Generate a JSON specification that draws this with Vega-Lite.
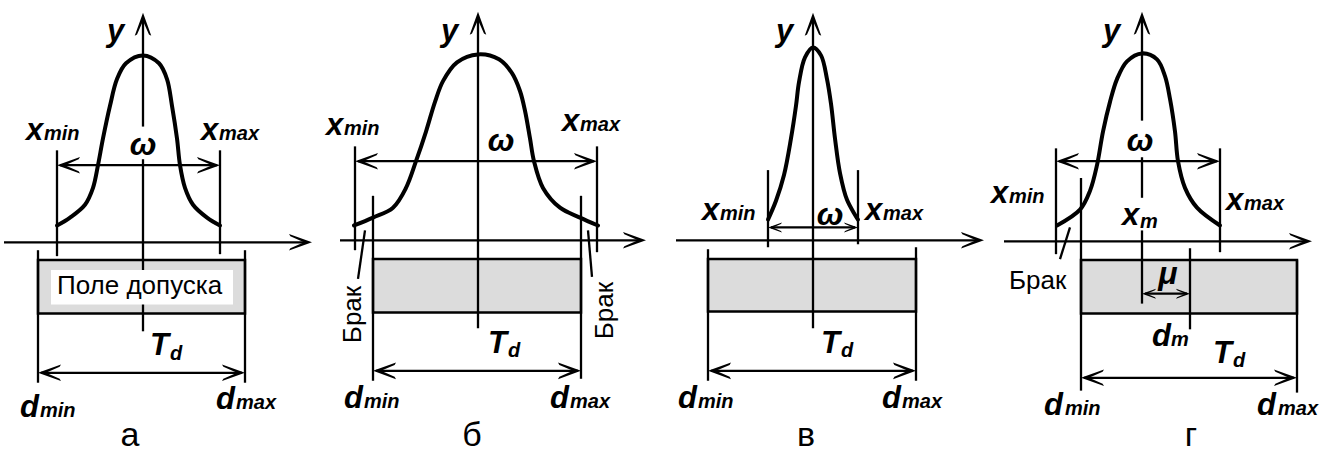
{
  "$schema": "https://vega.github.io/schema/vega-lite/v6.json",
  "width": 1333,
  "height": 453,
  "autosize": {"type": "fit", "contains": "padding"},
  "padding": 0,
  "background": "white",
  "config": {"view": {"stroke": null}, "axis": {"disable": true}},
  "datasets": {
    "boxes": [
      {"role": "tol", "panel": "а", "x": 38, "y": 263, "x2": 245, "y2": 317},
      {"role": "tol", "panel": "б", "x": 373, "y": 262, "x2": 581, "y2": 316},
      {"role": "tol", "panel": "в", "x": 708, "y": 262, "x2": 916, "y2": 315},
      {"role": "tol", "panel": "г", "x": 1081, "y": 263, "x2": 1297, "y2": 317},
      {"role": "blank", "panel": "а", "x": 51, "y": 273, "x2": 233, "y2": 308}
    ],
    "rules": [
      {"panel": "а", "x": 143, "y": 20, "x2": 143, "y2": 128},
      {"panel": "а", "x": 143, "y": 161, "x2": 143, "y2": 335},
      {"panel": "а", "x": 4, "y": 245, "x2": 305, "y2": 245},
      {"panel": "а", "x": 57, "y": 152, "x2": 57, "y2": 259},
      {"panel": "а", "x": 220, "y": 152, "x2": 220, "y2": 257},
      {"panel": "а", "x": 60, "y": 167, "x2": 217, "y2": 167},
      {"panel": "а", "x": 38, "y": 253, "x2": 38, "y2": 387},
      {"panel": "а", "x": 245, "y": 253, "x2": 245, "y2": 387},
      {"panel": "а", "x": 41, "y": 377, "x2": 242, "y2": 377},
      {"panel": "б", "x": 478, "y": 20, "x2": 478, "y2": 332},
      {"panel": "б", "x": 340, "y": 243, "x2": 640, "y2": 243},
      {"panel": "б", "x": 355, "y": 148, "x2": 355, "y2": 253},
      {"panel": "б", "x": 597, "y": 148, "x2": 597, "y2": 255},
      {"panel": "б", "x": 358, "y": 163, "x2": 594, "y2": 163},
      {"panel": "б", "x": 373, "y": 198, "x2": 373, "y2": 385},
      {"panel": "б", "x": 581, "y": 198, "x2": 581, "y2": 383},
      {"panel": "б", "x": 376, "y": 375, "x2": 578, "y2": 375},
      {"panel": "б", "x": 365, "y": 233, "x2": 358, "y2": 282},
      {"panel": "б", "x": 588, "y": 233, "x2": 592, "y2": 280},
      {"panel": "в", "x": 813, "y": 20, "x2": 813, "y2": 332},
      {"panel": "в", "x": 676, "y": 243, "x2": 978, "y2": 243},
      {"panel": "в", "x": 768, "y": 172, "x2": 768, "y2": 250},
      {"panel": "в", "x": 858, "y": 172, "x2": 858, "y2": 247},
      {"panel": "в", "x": 771, "y": 230, "x2": 855, "y2": 230},
      {"panel": "в", "x": 708, "y": 252, "x2": 708, "y2": 385},
      {"panel": "в", "x": 916, "y": 250, "x2": 916, "y2": 385},
      {"panel": "в", "x": 711, "y": 375, "x2": 913, "y2": 375},
      {"panel": "г", "x": 1142, "y": 20, "x2": 1142, "y2": 122},
      {"panel": "г", "x": 1142, "y": 159, "x2": 1142, "y2": 200},
      {"panel": "г", "x": 1142, "y": 233, "x2": 1142, "y2": 307},
      {"panel": "г", "x": 1004, "y": 244, "x2": 1306, "y2": 244},
      {"panel": "г", "x": 1056, "y": 150, "x2": 1056, "y2": 257},
      {"panel": "г", "x": 1220, "y": 150, "x2": 1220, "y2": 255},
      {"panel": "г", "x": 1059, "y": 163, "x2": 1217, "y2": 163},
      {"panel": "г", "x": 1081, "y": 180, "x2": 1081, "y2": 395},
      {"panel": "г", "x": 1297, "y": 263, "x2": 1297, "y2": 397},
      {"panel": "г", "x": 1190, "y": 251, "x2": 1190, "y2": 333},
      {"panel": "г", "x": 1145, "y": 297, "x2": 1187, "y2": 297},
      {"panel": "г", "x": 1084, "y": 382, "x2": 1294, "y2": 382},
      {"panel": "г", "x": 1070, "y": 230, "x2": 1060, "y2": 262}
    ],
    "curves": [
      {"panel": "а", "x": 57, "y": 228}, {"panel": "а", "x": 70, "y": 220}, {"panel": "а", "x": 85, "y": 207},
      {"panel": "а", "x": 93, "y": 190}, {"panel": "а", "x": 98, "y": 167}, {"panel": "а", "x": 103, "y": 140},
      {"panel": "а", "x": 110, "y": 107}, {"panel": "а", "x": 117, "y": 80}, {"panel": "а", "x": 126, "y": 64},
      {"panel": "а", "x": 143, "y": 56}, {"panel": "а", "x": 159, "y": 64}, {"panel": "а", "x": 167, "y": 80},
      {"panel": "а", "x": 172, "y": 107}, {"panel": "а", "x": 177, "y": 140}, {"panel": "а", "x": 180, "y": 167},
      {"panel": "а", "x": 185, "y": 190}, {"panel": "а", "x": 193, "y": 207}, {"panel": "а", "x": 207, "y": 220},
      {"panel": "а", "x": 220, "y": 228},
      {"panel": "б", "x": 354, "y": 228}, {"panel": "б", "x": 373, "y": 220}, {"panel": "б", "x": 393, "y": 210},
      {"panel": "б", "x": 406, "y": 190}, {"panel": "б", "x": 416, "y": 163}, {"panel": "б", "x": 426, "y": 133},
      {"panel": "б", "x": 435, "y": 103}, {"panel": "б", "x": 443, "y": 82}, {"panel": "б", "x": 457, "y": 63},
      {"panel": "б", "x": 478, "y": 55}, {"panel": "б", "x": 499, "y": 60}, {"panel": "б", "x": 512, "y": 74},
      {"panel": "б", "x": 520, "y": 92}, {"panel": "б", "x": 525, "y": 112}, {"panel": "б", "x": 530, "y": 140},
      {"panel": "б", "x": 534, "y": 163}, {"panel": "б", "x": 543, "y": 190}, {"panel": "б", "x": 560, "y": 210},
      {"panel": "б", "x": 580, "y": 220}, {"panel": "б", "x": 598, "y": 228},
      {"panel": "в", "x": 768, "y": 222}, {"panel": "в", "x": 776, "y": 203}, {"panel": "в", "x": 784, "y": 177},
      {"panel": "в", "x": 791, "y": 140}, {"panel": "в", "x": 796, "y": 107}, {"panel": "в", "x": 799, "y": 83},
      {"panel": "в", "x": 805, "y": 58}, {"panel": "в", "x": 813, "y": 48}, {"panel": "в", "x": 821, "y": 56},
      {"panel": "в", "x": 827, "y": 80}, {"panel": "в", "x": 831, "y": 105}, {"panel": "в", "x": 835, "y": 140},
      {"panel": "в", "x": 840, "y": 175}, {"panel": "в", "x": 847, "y": 202}, {"panel": "в", "x": 858, "y": 222},
      {"panel": "г", "x": 1057, "y": 228}, {"panel": "г", "x": 1080, "y": 212}, {"panel": "г", "x": 1090, "y": 193},
      {"panel": "г", "x": 1097, "y": 167}, {"panel": "г", "x": 1103, "y": 133}, {"panel": "г", "x": 1110, "y": 103},
      {"panel": "г", "x": 1117, "y": 80}, {"panel": "г", "x": 1127, "y": 62}, {"panel": "г", "x": 1142, "y": 54},
      {"panel": "г", "x": 1157, "y": 60}, {"panel": "г", "x": 1165, "y": 77}, {"panel": "г", "x": 1170, "y": 100},
      {"panel": "г", "x": 1175, "y": 133}, {"panel": "г", "x": 1178, "y": 163}, {"panel": "г", "x": 1185, "y": 190},
      {"panel": "г", "x": 1197, "y": 210}, {"panel": "г", "x": 1220, "y": 228}
    ],
    "arrows": [
      {"dir": "R", "x": 312, "y": 245}, {"dir": "R", "x": 220, "y": 167}, {"dir": "R", "x": 245, "y": 377},
      {"dir": "R", "x": 646, "y": 243}, {"dir": "R", "x": 597, "y": 163}, {"dir": "R", "x": 581, "y": 375},
      {"dir": "R", "x": 984, "y": 243}, {"dir": "R", "x": 916, "y": 375},
      {"dir": "R", "x": 1312, "y": 244}, {"dir": "R", "x": 1220, "y": 163}, {"dir": "R", "x": 1297, "y": 382},
      {"dir": "L", "x": 57, "y": 167}, {"dir": "L", "x": 38, "y": 377},
      {"dir": "L", "x": 355, "y": 163}, {"dir": "L", "x": 373, "y": 375},
      {"dir": "L", "x": 708, "y": 375},
      {"dir": "L", "x": 1056, "y": 163}, {"dir": "L", "x": 1081, "y": 382},
      {"dir": "U", "x": 143, "y": 13}, {"dir": "U", "x": 478, "y": 12}, {"dir": "U", "x": 813, "y": 13}, {"dir": "U", "x": 1142, "y": 12},
      {"dir": "r", "x": 858, "y": 230}, {"dir": "r", "x": 1190, "y": 297},
      {"dir": "l", "x": 768, "y": 230}, {"dir": "l", "x": 1142, "y": 297}
    ],
    "texts": [
      {"role": "sym", "t": "y", "x": 107, "y": 41},
      {"role": "sym", "t": "x", "x": 26, "y": 142}, {"role": "sub", "t": "min", "x": 44, "y": 142},
      {"role": "sym", "t": "x", "x": 201, "y": 142}, {"role": "sub", "t": "max", "x": 219, "y": 142},
      {"role": "greek", "t": "ω", "x": 143, "y": 157},
      {"role": "sym", "t": "T", "x": 150, "y": 359}, {"role": "sub", "t": "d", "x": 170, "y": 364},
      {"role": "sym", "t": "d", "x": 20, "y": 422}, {"role": "sub", "t": "min", "x": 40, "y": 422},
      {"role": "sym", "t": "d", "x": 216, "y": 414}, {"role": "sub", "t": "max", "x": 236, "y": 414},
      {"role": "caption", "t": "а", "x": 130, "y": 451},
      {"role": "note", "t": "Поле допуска", "x": 57, "y": 297},

      {"role": "sym", "t": "y", "x": 441, "y": 41},
      {"role": "sym", "t": "x", "x": 326, "y": 137}, {"role": "sub", "t": "min", "x": 344, "y": 137},
      {"role": "sym", "t": "x", "x": 562, "y": 132}, {"role": "sub", "t": "max", "x": 580, "y": 132},
      {"role": "greek", "t": "ω", "x": 501, "y": 153},
      {"role": "sym", "t": "T", "x": 488, "y": 357}, {"role": "sub", "t": "d", "x": 508, "y": 361},
      {"role": "sym", "t": "d", "x": 344, "y": 413}, {"role": "sub", "t": "min", "x": 364, "y": 413},
      {"role": "sym", "t": "d", "x": 550, "y": 413}, {"role": "sub", "t": "max", "x": 570, "y": 413},
      {"role": "caption", "t": "б", "x": 472, "y": 451},
      {"role": "noterot", "t": "Брак", "x": 353, "y": 318},
      {"role": "noterot", "t": "Брак", "x": 605, "y": 314},

      {"role": "sym", "t": "y", "x": 776, "y": 41},
      {"role": "sym", "t": "x", "x": 702, "y": 222}, {"role": "sub", "t": "min", "x": 720, "y": 222},
      {"role": "sym", "t": "x", "x": 865, "y": 222}, {"role": "sub", "t": "max", "x": 883, "y": 222},
      {"role": "greek", "t": "ω", "x": 830, "y": 228},
      {"role": "sym", "t": "T", "x": 821, "y": 357}, {"role": "sub", "t": "d", "x": 841, "y": 361},
      {"role": "sym", "t": "d", "x": 678, "y": 413}, {"role": "sub", "t": "min", "x": 698, "y": 413},
      {"role": "sym", "t": "d", "x": 882, "y": 413}, {"role": "sub", "t": "max", "x": 902, "y": 413},
      {"role": "caption", "t": "в", "x": 806, "y": 451},

      {"role": "sym", "t": "y", "x": 1103, "y": 41},
      {"role": "sym", "t": "x", "x": 991, "y": 205}, {"role": "sub", "t": "min", "x": 1009, "y": 205},
      {"role": "sym", "t": "x", "x": 1226, "y": 212}, {"role": "sub", "t": "max", "x": 1244, "y": 212},
      {"role": "greek", "t": "ω", "x": 1140, "y": 153},
      {"role": "sym", "t": "x", "x": 1122, "y": 228}, {"role": "sub", "t": "m", "x": 1140, "y": 231},
      {"role": "greek", "t": "μ", "x": 1168, "y": 287},
      {"role": "sym", "t": "d", "x": 1152, "y": 350}, {"role": "sub", "t": "m", "x": 1171, "y": 350},
      {"role": "sym", "t": "T", "x": 1213, "y": 367}, {"role": "sub", "t": "d", "x": 1233, "y": 371},
      {"role": "sym", "t": "d", "x": 1044, "y": 420}, {"role": "sub", "t": "min", "x": 1065, "y": 420},
      {"role": "sym", "t": "d", "x": 1257, "y": 420}, {"role": "sub", "t": "max", "x": 1278, "y": 420},
      {"role": "caption", "t": "г", "x": 1191, "y": 451},
      {"role": "note", "t": "Брак", "x": 1009, "y": 292}
    ]
  },
  "layer": [
    {
      "data": {"name": "boxes"},
      "transform": [{"filter": "datum.role === 'tol'"}],
      "mark": {"type": "rect", "fill": "#dcdcdc", "stroke": "black", "strokeWidth": 2.5},
      "encoding": {
        "x": {"field": "x", "type": "quantitative", "scale": {"domain": [0, 1333], "nice": false, "zero": false}},
        "x2": {"field": "x2"},
        "y": {"field": "y", "type": "quantitative", "scale": {"domain": [0, 453], "nice": false, "zero": false, "reverse": true}},
        "y2": {"field": "y2"}
      }
    },
    {
      "data": {"name": "rules"},
      "mark": {"type": "rule", "stroke": "black", "strokeWidth": 2.3},
      "encoding": {
        "x": {"field": "x", "type": "quantitative"},
        "x2": {"field": "x2"},
        "y": {"field": "y", "type": "quantitative"},
        "y2": {"field": "y2"}
      }
    },
    {
      "data": {"name": "boxes"},
      "transform": [{"filter": "datum.role === 'blank'"}],
      "mark": {"type": "rect", "fill": "white", "strokeWidth": 0},
      "encoding": {
        "x": {"field": "x", "type": "quantitative"},
        "x2": {"field": "x2"},
        "y": {"field": "y", "type": "quantitative"},
        "y2": {"field": "y2"}
      }
    },
    {
      "data": {"name": "curves"},
      "mark": {"type": "line", "stroke": "black", "strokeWidth": 4, "interpolate": "catmull-rom", "strokeCap": "round"},
      "encoding": {
        "x": {"field": "x", "type": "quantitative"},
        "y": {"field": "y", "type": "quantitative"},
        "detail": {"field": "panel"}
      }
    },
    {
      "data": {"name": "arrows"},
      "transform": [{"filter": "datum.dir === 'R'"}],
      "mark": {"type": "point", "shape": "M0,0 L-2,-0.72 L-1.88,-0.52 L-0.7,0 L-1.88,0.52 L-2,0.72 Z", "size": 529, "filled": true, "fill": "black", "strokeWidth": 0, "opacity": 1},
      "encoding": {"x": {"field": "x", "type": "quantitative"}, "y": {"field": "y", "type": "quantitative"}}
    },
    {
      "data": {"name": "arrows"},
      "transform": [{"filter": "datum.dir === 'L'"}],
      "mark": {"type": "point", "shape": "M0,0 L-2,-0.72 L-1.88,-0.52 L-0.7,0 L-1.88,0.52 L-2,0.72 Z", "size": 529, "angle": 180, "filled": true, "fill": "black", "strokeWidth": 0, "opacity": 1},
      "encoding": {"x": {"field": "x", "type": "quantitative"}, "y": {"field": "y", "type": "quantitative"}}
    },
    {
      "data": {"name": "arrows"},
      "transform": [{"filter": "datum.dir === 'U'"}],
      "mark": {"type": "point", "shape": "M0,0 L-2,-0.72 L-1.88,-0.52 L-0.7,0 L-1.88,0.52 L-2,0.72 Z", "size": 529, "angle": 270, "filled": true, "fill": "black", "strokeWidth": 0, "opacity": 1},
      "encoding": {"x": {"field": "x", "type": "quantitative"}, "y": {"field": "y", "type": "quantitative"}}
    },
    {
      "data": {"name": "arrows"},
      "transform": [{"filter": "datum.dir === 'r'"}],
      "mark": {"type": "point", "shape": "M0,0 L-2,-0.72 L-1.85,-0.5 L-0.7,0 L-1.85,0.5 L-2,0.72 Z", "size": 196, "filled": true, "fill": "black", "strokeWidth": 0, "opacity": 1},
      "encoding": {"x": {"field": "x", "type": "quantitative"}, "y": {"field": "y", "type": "quantitative"}}
    },
    {
      "data": {"name": "arrows"},
      "transform": [{"filter": "datum.dir === 'l'"}],
      "mark": {"type": "point", "shape": "M0,0 L-2,-0.72 L-1.85,-0.5 L-0.7,0 L-1.85,0.5 L-2,0.72 Z", "size": 196, "angle": 180, "filled": true, "fill": "black", "strokeWidth": 0, "opacity": 1},
      "encoding": {"x": {"field": "x", "type": "quantitative"}, "y": {"field": "y", "type": "quantitative"}}
    },
    {
      "data": {"name": "texts"},
      "transform": [{"filter": "datum.role === 'sym'"}],
      "mark": {"type": "text", "font": "Liberation Sans", "fontSize": 31, "fontWeight": "bold", "fontStyle": "italic", "align": "left", "baseline": "alphabetic", "color": "black"},
      "encoding": {"x": {"field": "x", "type": "quantitative"}, "y": {"field": "y", "type": "quantitative"}, "text": {"field": "t"}}
    },
    {
      "data": {"name": "texts"},
      "transform": [{"filter": "datum.role === 'sub'"}],
      "mark": {"type": "text", "font": "Liberation Sans", "fontSize": 20, "fontWeight": "bold", "fontStyle": "italic", "align": "left", "baseline": "alphabetic", "color": "black"},
      "encoding": {"x": {"field": "x", "type": "quantitative"}, "y": {"field": "y", "type": "quantitative"}, "text": {"field": "t"}}
    },
    {
      "data": {"name": "texts"},
      "transform": [{"filter": "datum.role === 'greek'"}],
      "mark": {"type": "text", "font": "Liberation Sans", "fontSize": 32, "fontWeight": "bold", "fontStyle": "italic", "align": "center", "baseline": "alphabetic", "color": "black"},
      "encoding": {"x": {"field": "x", "type": "quantitative"}, "y": {"field": "y", "type": "quantitative"}, "text": {"field": "t"}}
    },
    {
      "data": {"name": "texts"},
      "transform": [{"filter": "datum.role === 'caption'"}],
      "mark": {"type": "text", "font": "Liberation Sans", "fontSize": 34, "align": "center", "baseline": "alphabetic", "color": "black"},
      "encoding": {"x": {"field": "x", "type": "quantitative"}, "y": {"field": "y", "type": "quantitative"}, "text": {"field": "t"}}
    },
    {
      "data": {"name": "texts"},
      "transform": [{"filter": "datum.role === 'note'"}],
      "mark": {"type": "text", "font": "Liberation Sans", "fontSize": 26, "align": "left", "baseline": "alphabetic", "color": "black"},
      "encoding": {"x": {"field": "x", "type": "quantitative"}, "y": {"field": "y", "type": "quantitative"}, "text": {"field": "t"}}
    },
    {
      "data": {"name": "texts"},
      "transform": [{"filter": "datum.role === 'noterot'"}],
      "mark": {"type": "text", "font": "Liberation Sans", "fontSize": 26, "angle": 270, "align": "center", "baseline": "middle", "color": "black"},
      "encoding": {"x": {"field": "x", "type": "quantitative"}, "y": {"field": "y", "type": "quantitative"}, "text": {"field": "t"}}
    }
  ]
}
